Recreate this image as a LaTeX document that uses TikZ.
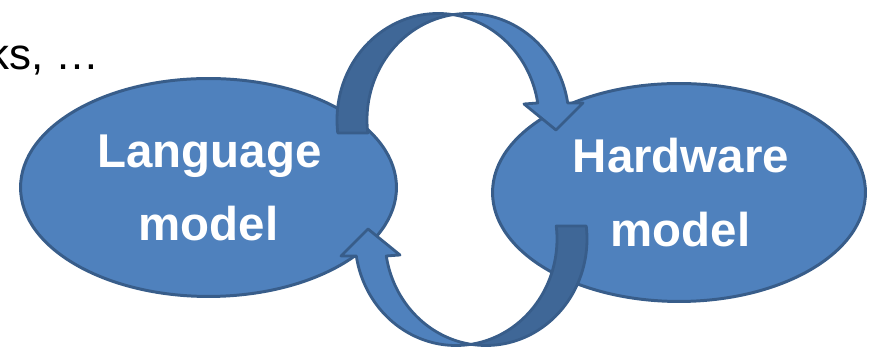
\documentclass[tikz,border=0pt]{standalone}
\usepackage{fontspec}
\setmainfont{Liberation Sans}
\usetikzlibrary{shapes.geometric}
\definecolor{fillblue}{HTML}{4F81BD}
\definecolor{edgeblue}{HTML}{385D8A}
\definecolor{shadeblue}{HTML}{3F6797}
\begin{document}
\begin{tikzpicture}[x=0.02cm,y=0.02cm,
  blob/.style={ellipse, draw=edgeblue, fill=fillblue, line width=1.7pt, inner sep=0pt},
  ribbon/.style={draw=edgeblue, line width=1.6pt, line join=round},
  title/.style={font=\fontsize{27}{32}\selectfont\bfseries, text=white, anchor=base, inner sep=0pt},
  plain/.style={font=\fontsize{25}{30}\selectfont, text=black, inner sep=0pt}
]
\useasboundingbox (0,0) rectangle (869,350);

% trailing text of a list
\node[plain, anchor=base east] (etc) at (100,280.5) {ks, …};

% the two models
\node[blob, minimum width=7.52cm, minimum height=4.36cm] (lang) at (208.5,162.5) {};
\node[blob, minimum width=7.46cm, minimum height=4.36cm] (hw) at (679,157.5) {};

\node[title] (langA) at (209.5,182) {Language};
\node[title] (langB) at (208.5,109) {model};
\node[title] (hwA) at (681,177) {Hardware};
\node[title] (hwB) at (680.5,103) {model};

% curved block arrow: back half shaded, front half with head
\newcommand\curvedblockarrow{%
  \draw[ribbon, fill=shadeblue]
    plot[domain=187:81.46, samples=60] ({438+101*cos(\x)},{230+106.5*sin(\x)})
    -- plot[domain=98.54:187, samples=60] ({468+101*cos(\x)},{230+106.5*sin(\x)})
    -- cycle;
  \draw[ribbon, fill=fillblue]
    plot[domain=98.54:9.18, samples=60] ({468+101*cos(\x)},{230+106.5*sin(\x)})
    -- (583,247) -- (556,220) -- (524,246)
    -- plot[domain=9.18:81.46, samples=60] ({438+101*cos(\x)},{230+106.5*sin(\x)})
    -- cycle;
}
\begin{scope}
  \curvedblockarrow
\end{scope}
\begin{scope}[rotate around={180:(462,170.5)}]
  \curvedblockarrow
\end{scope}
\end{tikzpicture}
\end{document}
